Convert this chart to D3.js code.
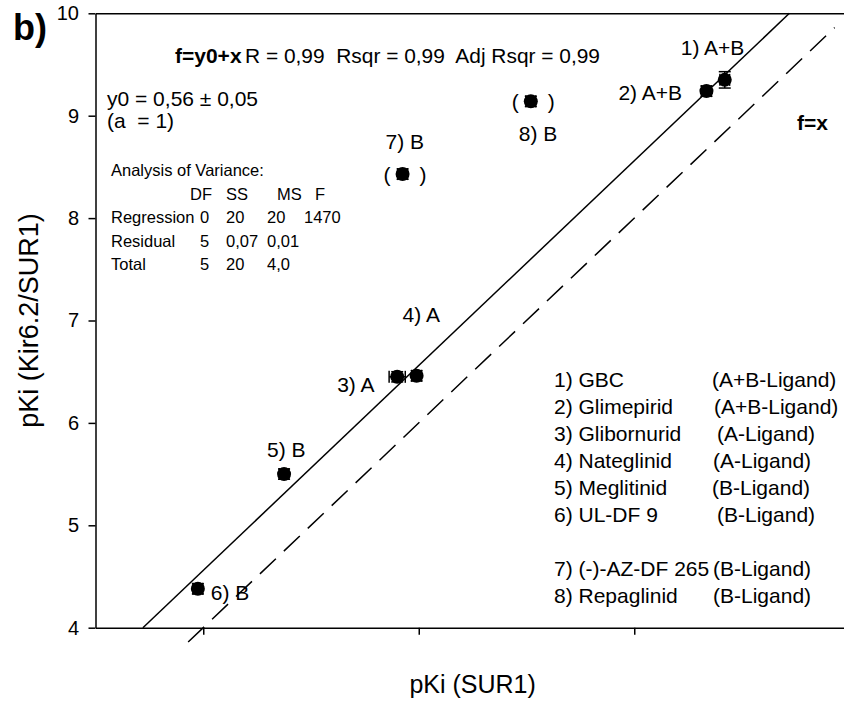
<!DOCTYPE html>
<html><head><meta charset="utf-8">
<script src="https://cdn.jsdelivr.net/npm/d3@7"></script>
<style>
body{margin:0;background:#fff;}
svg text{font-family:"Liberation Sans", Arial, sans-serif; fill:#000; white-space:pre;}
</style></head><body>
<svg id="chart" width="844" height="705"></svg>
<script>
// ---------- data ----------
const compounds   = ["GBC","Glimepirid","Glibornurid","Nateglinid","Meglitinid","UL-DF 9","(-)-AZ-DF 265","Repaglinid"];
const ligandType  = ["(A+B-Ligand)","(A+B-Ligand)","(A-Ligand)","(A-Ligand)","(B-Ligand)","(B-Ligand)","(B-Ligand)","(B-Ligand)"];
const pointLabels = ["1) A+B","2) A+B","3) A","4) A","5) B","6) B","7) B","8) B"];
const pKiSUR1     = [8.84, 8.67, 5.80, 5.98, 4.75, 3.95, 5.85, 7.04];
const pKiKir      = [9.35, 9.24, 6.45, 6.46, 5.50, 4.38, 8.43, 9.14];
const errSUR1     = [0.045, 0.045, 0.075, 0.045, 0.045, 0.045, 0.045, 0.045];
const errKir      = [0.08, 0.05, 0.05, 0.05, 0.05, 0.05, 0.05, 0.05];
const excluded    = [false,false,false,false,false,false,true,true];
const yTicks = [4,5,6,7,8,9,10];
const xTicks = [4,6,8];
const intercept = 0.56;          // f = y0 + x
const fitXRange = [3.44, 9.44];
const identityXRange = [3.86, 9.86]; // f = x
const anovaHeader = ["DF","SS","MS","F"];
const anovaRows = [
  ["Regression","0","20","20","1470"],
  ["Residual","5","0,07","0,01",""],
  ["Total","5","20","4,0",""]
];

// ---------- layout ----------
const svg = d3.select("#chart");
const x = d3.scaleLinear().domain([3,10]).range([95.5, 849.75]);
const y = d3.scaleLinear().domain([4,10]).range([627.7, 13.3]);

const axisStroke = 1.5;

const gL = svg.append("g").attr("transform",`translate(${x(3)},0)`)
  .call(d3.axisLeft(y).tickValues(yTicks).tickSize(7).tickSizeOuter(0).tickPadding(9.5).tickFormat(d3.format("d")));
const gB = svg.append("g").attr("transform",`translate(0,${y(4)})`)
  .call(d3.axisBottom(x).tickValues(xTicks).tickSize(7).tickSizeOuter(0).tickFormat(""));
const gT = svg.append("g").attr("transform",`translate(0,${y(10)})`)
  .call(d3.axisTop(x).tickValues([]).tickSizeOuter(0));
[gL,gB,gT].forEach(g=>{
  g.selectAll("path,line").attr("stroke","#000").attr("stroke-width",axisStroke);
  g.selectAll("text").attr("font-size",20).attr("font-family","Liberation Sans, Arial, sans-serif").attr("fill","#000");
});

// lines
const line = d3.line().x(d=>x(d[0])).y(d=>y(d[1]));
svg.append("path").datum(fitXRange.map(v=>[v, v+intercept]))
  .attr("d", line).attr("stroke","#000").attr("stroke-width",1.5).attr("fill","none");
svg.append("path").datum(identityXRange.map(v=>[v, v]))
  .attr("d", line).attr("stroke","#000").attr("stroke-width",1.5).attr("fill","none")
  .attr("stroke-dasharray","22,11");

// points with error bars
const pts = compounds.map((c,i)=>({i, xv:pKiSUR1[i], yv:pKiKir[i], ex:errSUR1[i], ey:errKir[i]}));
const cap = 6;
const gp = svg.append("g");
pts.forEach(p=>{
  const cx = x(p.xv), cy = y(p.yv);
  const y1 = y(p.yv+p.ey), y2 = y(p.yv-p.ey);
  const x1 = x(p.xv-p.ex), x2 = x(p.xv+p.ex);
  const g = gp.append("g").attr("stroke","#000").attr("stroke-width",1.5);
  g.append("line").attr("x1",cx).attr("x2",cx).attr("y1",y1).attr("y2",y2);
  g.append("line").attr("x1",cx-cap).attr("x2",cx+cap).attr("y1",y1).attr("y2",y1);
  g.append("line").attr("x1",cx-cap).attr("x2",cx+cap).attr("y1",y2).attr("y2",y2);
  g.append("line").attr("x1",x1).attr("x2",x2).attr("y1",cy).attr("y2",cy);
  g.append("line").attr("x1",x1).attr("x2",x1).attr("y1",cy-cap).attr("y2",cy+cap);
  g.append("line").attr("x1",x2).attr("x2",x2).attr("y1",cy-cap).attr("y2",cy+cap);
  gp.append("circle").attr("cx",cx).attr("cy",cy).attr("r",7).attr("fill","#000");
});

// point labels
const labelOffset = [[-44,-25],[-88,9],[-60,15],[-14,-54],[-17,-17],[13,11],[-17,-25],[-12,40]];
pts.forEach(p=>{
  const cx = x(p.xv), cy = y(p.yv);
  svg.append("text").attr("x",cx+labelOffset[p.i][0]).attr("y",cy+labelOffset[p.i][1])
    .attr("font-size",21).text(pointLabels[p.i]);
  if(excluded[p.i]){
    svg.append("text").attr("x",cx-19).attr("y",cy+8).attr("font-size",21).text("(");
    svg.append("text").attr("x",cx+17).attr("y",cy+8).attr("font-size",21).text(")");
  }
});

// annotations
svg.append("text").attr("x",13).attr("y",40).attr("font-size",36).attr("font-weight","bold").text("b)");
svg.append("text").attr("x",175).attr("y",63).attr("font-size",21).attr("font-weight","bold").text("f=y0+x");
svg.append("text").attr("x",245).attr("y",63).attr("font-size",21)
  .attr("textLength",355).attr("lengthAdjust","spacingAndGlyphs").text("R = 0,99  Rsqr = 0,99  Adj Rsqr = 0,99");
svg.append("text").attr("x",107).attr("y",106).attr("font-size",21).text("y0 = 0,56 \u00b1 0,05");
svg.append("text").attr("x",107).attr("y",128).attr("font-size",21).text("(a  = 1)");
svg.append("text").attr("x",797).attr("y",130).attr("font-size",21).attr("font-weight","bold").text("f=x");

// ANOVA table
const aFont = 16.5;
svg.append("text").attr("x",111).attr("y",176).attr("font-size",aFont).text("Analysis of Variance:");
const headX = [190,226,277,315];
anovaHeader.forEach((h,j)=>svg.append("text").attr("x",headX[j]).attr("y",200).attr("font-size",aFont).text(h));
const colX = [111,200,226,267,304];
anovaRows.forEach((r,i)=>r.forEach((c,j)=>{
  svg.append("text").attr("x",colX[j]).attr("y",223+i*23.5).attr("font-size",aFont).text(c);
}));

// legend
const legendRowY = [387,414,441,468,495,522,576,603];
const legendCol2 = [712,714,717,713,712,717,713,713];
compounds.forEach((c,i)=>{
  svg.append("text").attr("x",554).attr("y",legendRowY[i]).attr("font-size",21).text(`${i+1}) ${c}`);
  svg.append("text").attr("x",legendCol2[i]).attr("y",legendRowY[i]).attr("font-size",21).text(ligandType[i]);
});

// axis titles
svg.append("text").attr("x",x(6.5)).attr("y",693).attr("text-anchor","middle").attr("font-size",25).text("pKi (SUR1)");
svg.append("text").attr("transform",`translate(38,${y(7)}) rotate(-90)`).attr("text-anchor","middle").attr("font-size",27).text("pKi (Kir6.2/SUR1)");
</script>
</body></html>
